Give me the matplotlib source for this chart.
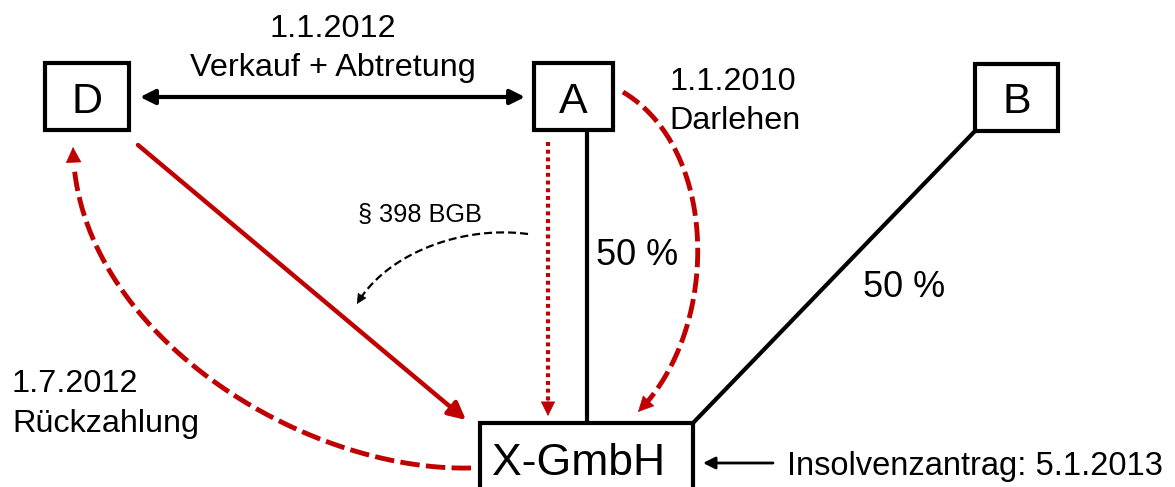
import numpy as np
import matplotlib
matplotlib.use("Agg")
import matplotlib.pyplot as plt
from matplotlib.patches import Rectangle

plt.rcParams['font.family'] = ['Liberation Sans', 'DejaVu Sans']

RED = "#c00000"

# boxes: name -> (x0, y0, x1, y1) in pixel space (y down)
box_names = ["D", "A", "B", "X-GmbH"]
box_rects = [(45, 63, 129, 130), (534, 63, 613, 130), (975, 64, 1058, 131), (480, 423, 693, 520)]
box_text_pos = [(87, 113), (573, 113), (1017, 113), (579, 475)]
box_text_size = [31, 31, 31, 32]

# labels: text, x, baseline y, size, ha
labels = ["1.1.2012", "Verkauf + Abtretung", "1.1.2010", "Darlehen", "50 %", "50 %",
          "1.7.2012", "Rückzahlung", "Insolvenzantrag: 5.1.2013", "§ 398 BGB"]
label_x = [333, 333, 669, 669, 596, 863, 12, 12, 787, 420]
label_y = [37, 76, 90, 129, 265, 297, 392, 432, 475, 222]
label_size = [23.3, 23.3, 23.3, 23.3, 26, 26, 23.3, 23.3, 23.5, 18.3]
label_ha = ["center", "center", "left", "left", "left", "left", "left", "left", "left", "center"]


def bezier(p0, p1, p2, p3, n=200):
    t = np.linspace(0, 1, n)[:, None]
    p0, p1, p2, p3 = map(np.array, (p0, p1, p2, p3))
    return (1-t)**3*p0 + 3*(1-t)**2*t*p1 + 3*(1-t)*t**2*p2 + t**3*p3


def head(ax, pts, color, scale):
    # solid arrow head at end of a curve
    ax.annotate("", xy=pts[-1], xytext=pts[-6],
                arrowprops=dict(arrowstyle="-|>", color=color, lw=0.5,
                                mutation_scale=scale, shrinkA=0, shrinkB=0))


def dashed_curve(ax, ctrl, color, lw, dashes, scale):
    pts = bezier(*ctrl)
    # stop the line a bit before the tip so the head covers it
    ax.plot(pts[:-8, 0], pts[:-8, 1], color=color, lw=lw, dashes=dashes,
            solid_capstyle="butt", dash_capstyle="butt")
    head(ax, pts, color, scale)


fig = plt.figure(figsize=(11.75, 4.87), dpi=100)
ax = fig.add_axes([0, 0, 1, 1])
ax.set_xlim(0, 1175)
ax.set_ylim(487, 0)
ax.axis("off")

# ownership lines
ax.plot([587, 587], [130, 423], color="black", lw=3)
ax.plot([975, 693], [131, 423], color="black", lw=3)

# boxes
for name, (x0, y0, x1, y1), (tx, ty), fs in zip(box_names, box_rects, box_text_pos, box_text_size):
    ax.add_patch(Rectangle((x0, y0), x1 - x0, y1 - y0, fill=True, facecolor="white",
                           edgecolor="black", lw=3, joinstyle="miter", zorder=3))
    ax.text(tx, ty, name, fontsize=fs, ha="center", va="baseline", zorder=4)

# D <-> A
ax.annotate("", xy=(140, 97), xytext=(525, 97),
            arrowprops=dict(arrowstyle="<|-|>", color="black", lw=3,
                            mutation_scale=22, shrinkA=0, shrinkB=0))

# Insolvenzantrag arrow
ax.annotate("", xy=(703, 463), xytext=(773, 463),
            arrowprops=dict(arrowstyle="-|>", color="black", lw=2,
                            mutation_scale=18, shrinkA=0, shrinkB=0))

# D -> X-GmbH (solid red)
ax.annotate("", xy=(466, 420), xytext=(138, 145),
            arrowprops=dict(arrowstyle="-|>", color=RED, lw=3.2,
                            mutation_scale=26, shrinkA=0, shrinkB=0))

# A -> X-GmbH dotted red
ax.plot([548, 548], [142, 402], color=RED, lw=3, dashes=(0.95, 0.9), solid_capstyle="butt")
ax.annotate("", xy=(548, 416), xytext=(548, 398),
            arrowprops=dict(arrowstyle="-|>", color=RED, lw=0.5,
                            mutation_scale=24, shrinkA=0, shrinkB=0))

# Darlehen A -> X-GmbH (dashed red arc)
dashed_curve(ax, [(623, 92), (720, 150), (720, 330), (638, 412)], RED, 3.5, (4, 1.3), 26)

# Rückzahlung X-GmbH -> D (dashed red arc)
dashed_curve(ax, [(471, 468), (300, 472), (75, 330), (73, 147)], RED, 3.5, (4, 1.3), 26)

# § 398 BGB (black dashed arc)
dashed_curve(ax, [(528, 234), (460, 225), (385, 255), (357, 304)], "black", 1.6, (3.6, 1.8), 16)

for t, x, y, fs, ha in zip(labels, label_x, label_y, label_size, label_ha):
    ax.text(x, y, t, fontsize=fs, ha=ha, va="baseline")

fig.savefig("out.png", dpi=100)
